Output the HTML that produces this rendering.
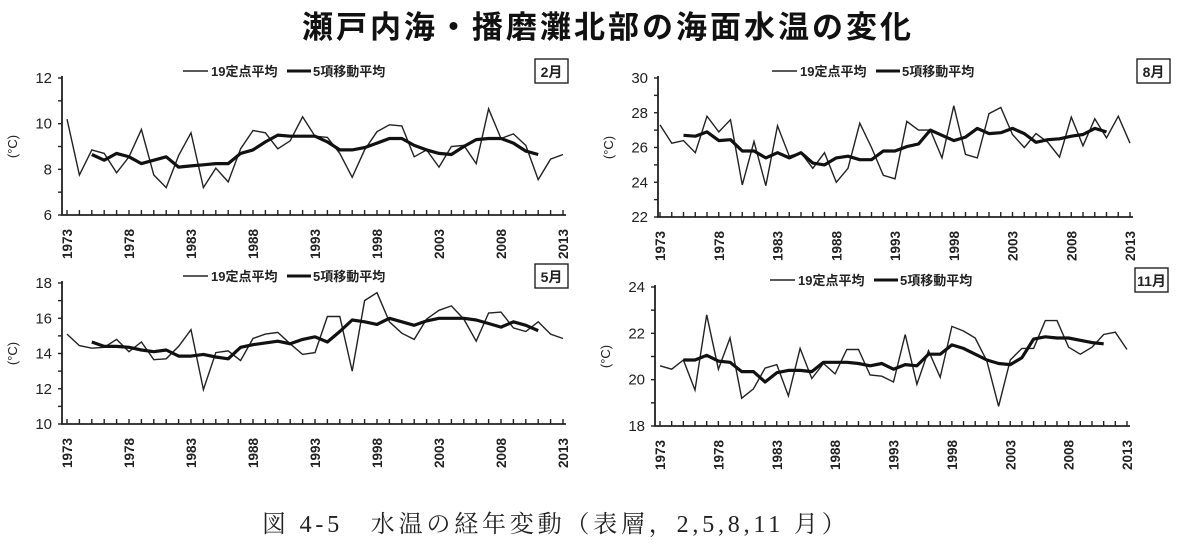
<!DOCTYPE html>
<html><head><meta charset="utf-8">
<style>
body{margin:0;background:#fff;width:1200px;height:552px;overflow:hidden;font-family:"Liberation Sans","Noto Sans CJK JP",sans-serif}
#title{position:absolute;left:8px;width:1200px;top:2px;text-align:center;font-size:31px;font-weight:bold;color:#111;letter-spacing:3px}
#caption{position:absolute;left:262px;top:504px;font-family:"Liberation Serif","Noto Serif CJK SC",serif;font-size:24px;letter-spacing:3.8px;color:#222}
svg{position:absolute;left:0;top:0}
</style></head><body>
<div id="title">瀬戸内海・播磨灘北部の海面水温の変化</div>
<div id="caption">図 4-5　水温の経年変動（表層，2,5,8,11 月）</div>
<svg id="svg" width="1200" height="552"></svg>
<script>
const startYear = 1973, endYear = 2013;
const febRaw = [10.2,7.75,8.85,8.7,7.85,8.55,9.75,7.75,7.2,8.6,9.6,7.2,8.05,7.45,8.9,9.7,9.6,8.9,9.25,10.3,9.45,9.4,8.7,7.65,8.85,9.65,9.95,9.9,8.55,8.85,8.1,9.0,9.05,8.25,10.65,9.35,9.55,9.05,7.55,8.45,8.65];
const febMA = [8.65,8.4,8.7,8.55,8.25,8.4,8.55,8.1,8.15,8.2,8.25,8.25,8.7,8.85,9.2,9.5,9.45,9.45,9.45,9.2,8.85,8.85,8.95,9.15,9.35,9.35,9.05,8.85,8.7,8.65,9.0,9.3,9.35,9.35,9.15,8.8,8.65];
const augRaw = [27.3,26.25,26.4,25.7,27.8,26.9,27.6,23.85,26.35,23.8,27.25,25.5,25.7,24.8,25.7,24.0,24.8,27.4,26.0,24.4,24.2,27.5,27.0,27.0,25.4,28.4,25.6,25.4,27.95,28.3,26.75,26.0,26.8,26.3,25.45,27.75,26.1,27.65,26.55,27.8,26.25];
const augMA = [26.7,26.65,26.9,26.4,26.45,25.8,25.8,25.4,25.7,25.4,25.7,25.1,25.0,25.4,25.5,25.3,25.3,25.8,25.8,26.05,26.2,27.0,26.7,26.4,26.6,27.1,26.8,26.85,27.1,26.8,26.3,26.45,26.5,26.65,26.75,27.1,26.9];
const mayRaw = [15.1,14.45,14.3,14.35,14.8,14.1,14.65,13.65,13.7,14.4,15.35,11.95,14.05,14.15,13.6,14.85,15.1,15.2,14.55,13.95,14.05,16.1,16.1,13.0,17.0,17.45,15.8,15.15,14.8,15.95,16.45,16.7,15.95,14.7,16.3,16.35,15.45,15.25,15.8,15.1,14.85];
const mayMA = [14.65,14.4,14.4,14.35,14.2,14.1,14.2,13.85,13.85,13.95,13.8,13.7,14.35,14.5,14.6,14.7,14.55,14.8,14.95,14.65,15.25,15.9,15.8,15.65,16.0,15.8,15.6,15.85,16.0,16.0,16.0,15.9,15.7,15.5,15.8,15.6,15.3];
const novRaw = [20.6,20.45,20.85,19.55,22.8,20.45,21.8,19.2,19.6,20.5,20.65,19.3,21.35,20.05,20.7,20.25,21.3,21.3,20.2,20.15,19.9,21.95,19.8,21.25,20.1,22.3,22.1,21.8,20.8,18.85,20.85,21.35,21.35,22.55,22.55,21.4,21.1,21.4,21.95,22.05,21.3];
const novMA = [20.85,20.85,21.05,20.8,20.75,20.35,20.35,19.9,20.3,20.4,20.4,20.35,20.75,20.75,20.75,20.7,20.6,20.7,20.45,20.65,20.6,21.1,21.1,21.5,21.35,21.1,20.85,20.7,20.65,20.95,21.75,21.85,21.8,21.8,21.7,21.6,21.55];
const febTicks=[6,8,10,12], mayTicks=[10,12,14,16,18], augTicks=[22,24,26,28,30], novTicks=[18,20,22,24];
const yearLabels=[1973,1978,1983,1988,1993,1998,2003,2008,2013];

const NS="http://www.w3.org/2000/svg";
const svg=document.getElementById('svg');
function mk(tag,attrs,parent){const e=document.createElementNS(NS,tag);for(const k in attrs)e.setAttribute(k,attrs[k]);(parent||svg).appendChild(e);return e;}

function panel(key,month,raw,ma,ticks,ax,x0,x1,yTop,yBot,legX,boxX){
  const g=mk('g',{});
  
  
  const vMin=ticks[0],vMax=ticks[ticks.length-1];
  const xs=y=>x0+(y-startYear)*(x1-x0)/(endYear-startYear);
  const ys=v=>yBot-(v-vMin)*(yBot-yTop)/(vMax-vMin);
  const axes=mk('path',{d:`M${ax},${yTop-2}V${yBot}H${x1+3}`,stroke:'#222','stroke-width':1.8,fill:'none'},g);
  
  
  for(let v=vMin;v<=vMax;v++){mk('line',{x1:ax-4,x2:ax,y1:ys(v),y2:ys(v),stroke:'#222','stroke-width':1.4},g);}
  ticks.forEach(v=>{const t=mk('text',{x:ax-10,y:ys(v)+5,'text-anchor':'end','font-size':15,fill:'#222'},g);t.textContent=v;
    
    });
  for(let y=startYear;y<=endYear;y++){mk('line',{x1:xs(y),x2:xs(y),y1:yBot,y2:yBot-5,stroke:'#222','stroke-width':1.4},g);}
  yearLabels.forEach(y=>{const t=mk('text',{x:0,y:0,transform:`translate(${xs(y)+5},${yBot+44}) rotate(-90)`,'font-size':13.5,'font-weight':'bold',fill:'#222'},g);t.textContent=y;
    
    });
  const yt=mk('text',{transform:`translate(${ax-45},${(yTop+yBot)/2}) rotate(-90)`,'text-anchor':'middle','font-size':13,fill:'#222'},g);yt.textContent='(°C)';
  
  
  const rp=raw.map((v,i)=>`${i?'L':'M'}${xs(startYear+i).toFixed(1)},${ys(v).toFixed(1)}`).join('');
  const r=mk('path',{d:rp,stroke:'#222','stroke-width':1.4,fill:'none'},g);
  
  
  const mp=ma.map((v,i)=>`${i?'L':'M'}${xs(startYear+2+i).toFixed(1)},${ys(v).toFixed(1)}`).join('');
  const m=mk('path',{d:mp,stroke:'#111','stroke-width':3.2,fill:'none','stroke-linejoin':'round'},g);
  
  
  const lg=mk('g',{},g);
  
  
  const ly=yTop-7;
  mk('line',{x1:legX,x2:legX+25,y1:ly,y2:ly,stroke:'#222','stroke-width':1.4},lg);
  const t1=mk('text',{x:legX+28,y:ly+5,'font-size':13,'font-weight':'bold',fill:'#222'},lg);t1.textContent='19定点平均';
  mk('line',{x1:legX+104,x2:legX+128,y1:ly,y2:ly,stroke:'#111','stroke-width':3},lg);
  const t2=mk('text',{x:legX+130,y:ly+5,'font-size':13,'font-weight':'bold',fill:'#222'},lg);t2.textContent='5項移動平均';
  const bx=mk('rect',{x:boxX,y:yTop-19,width:33,height:24,fill:'#fff',stroke:'#222','stroke-width':1.4},g);
  
  
  const bt=mk('text',{x:boxX+16.5,y:yTop-1,'text-anchor':'middle','font-size':14,'font-weight':'bold',fill:'#222'},g);bt.textContent=month;
}
panel('feb','2月',febRaw,febMA,febTicks,62,67,563,78,215,183,535);
panel('may','5月',mayRaw,mayMA,mayTicks,62,67,563,283,424,183,535);
panel('aug','8月',augRaw,augMA,augTicks,658,660,1130,78,217,772,1137);
panel('nov','11月',novRaw,novMA,novTicks,655,660,1127,287,426,770,1135);
</script>
</body></html>
